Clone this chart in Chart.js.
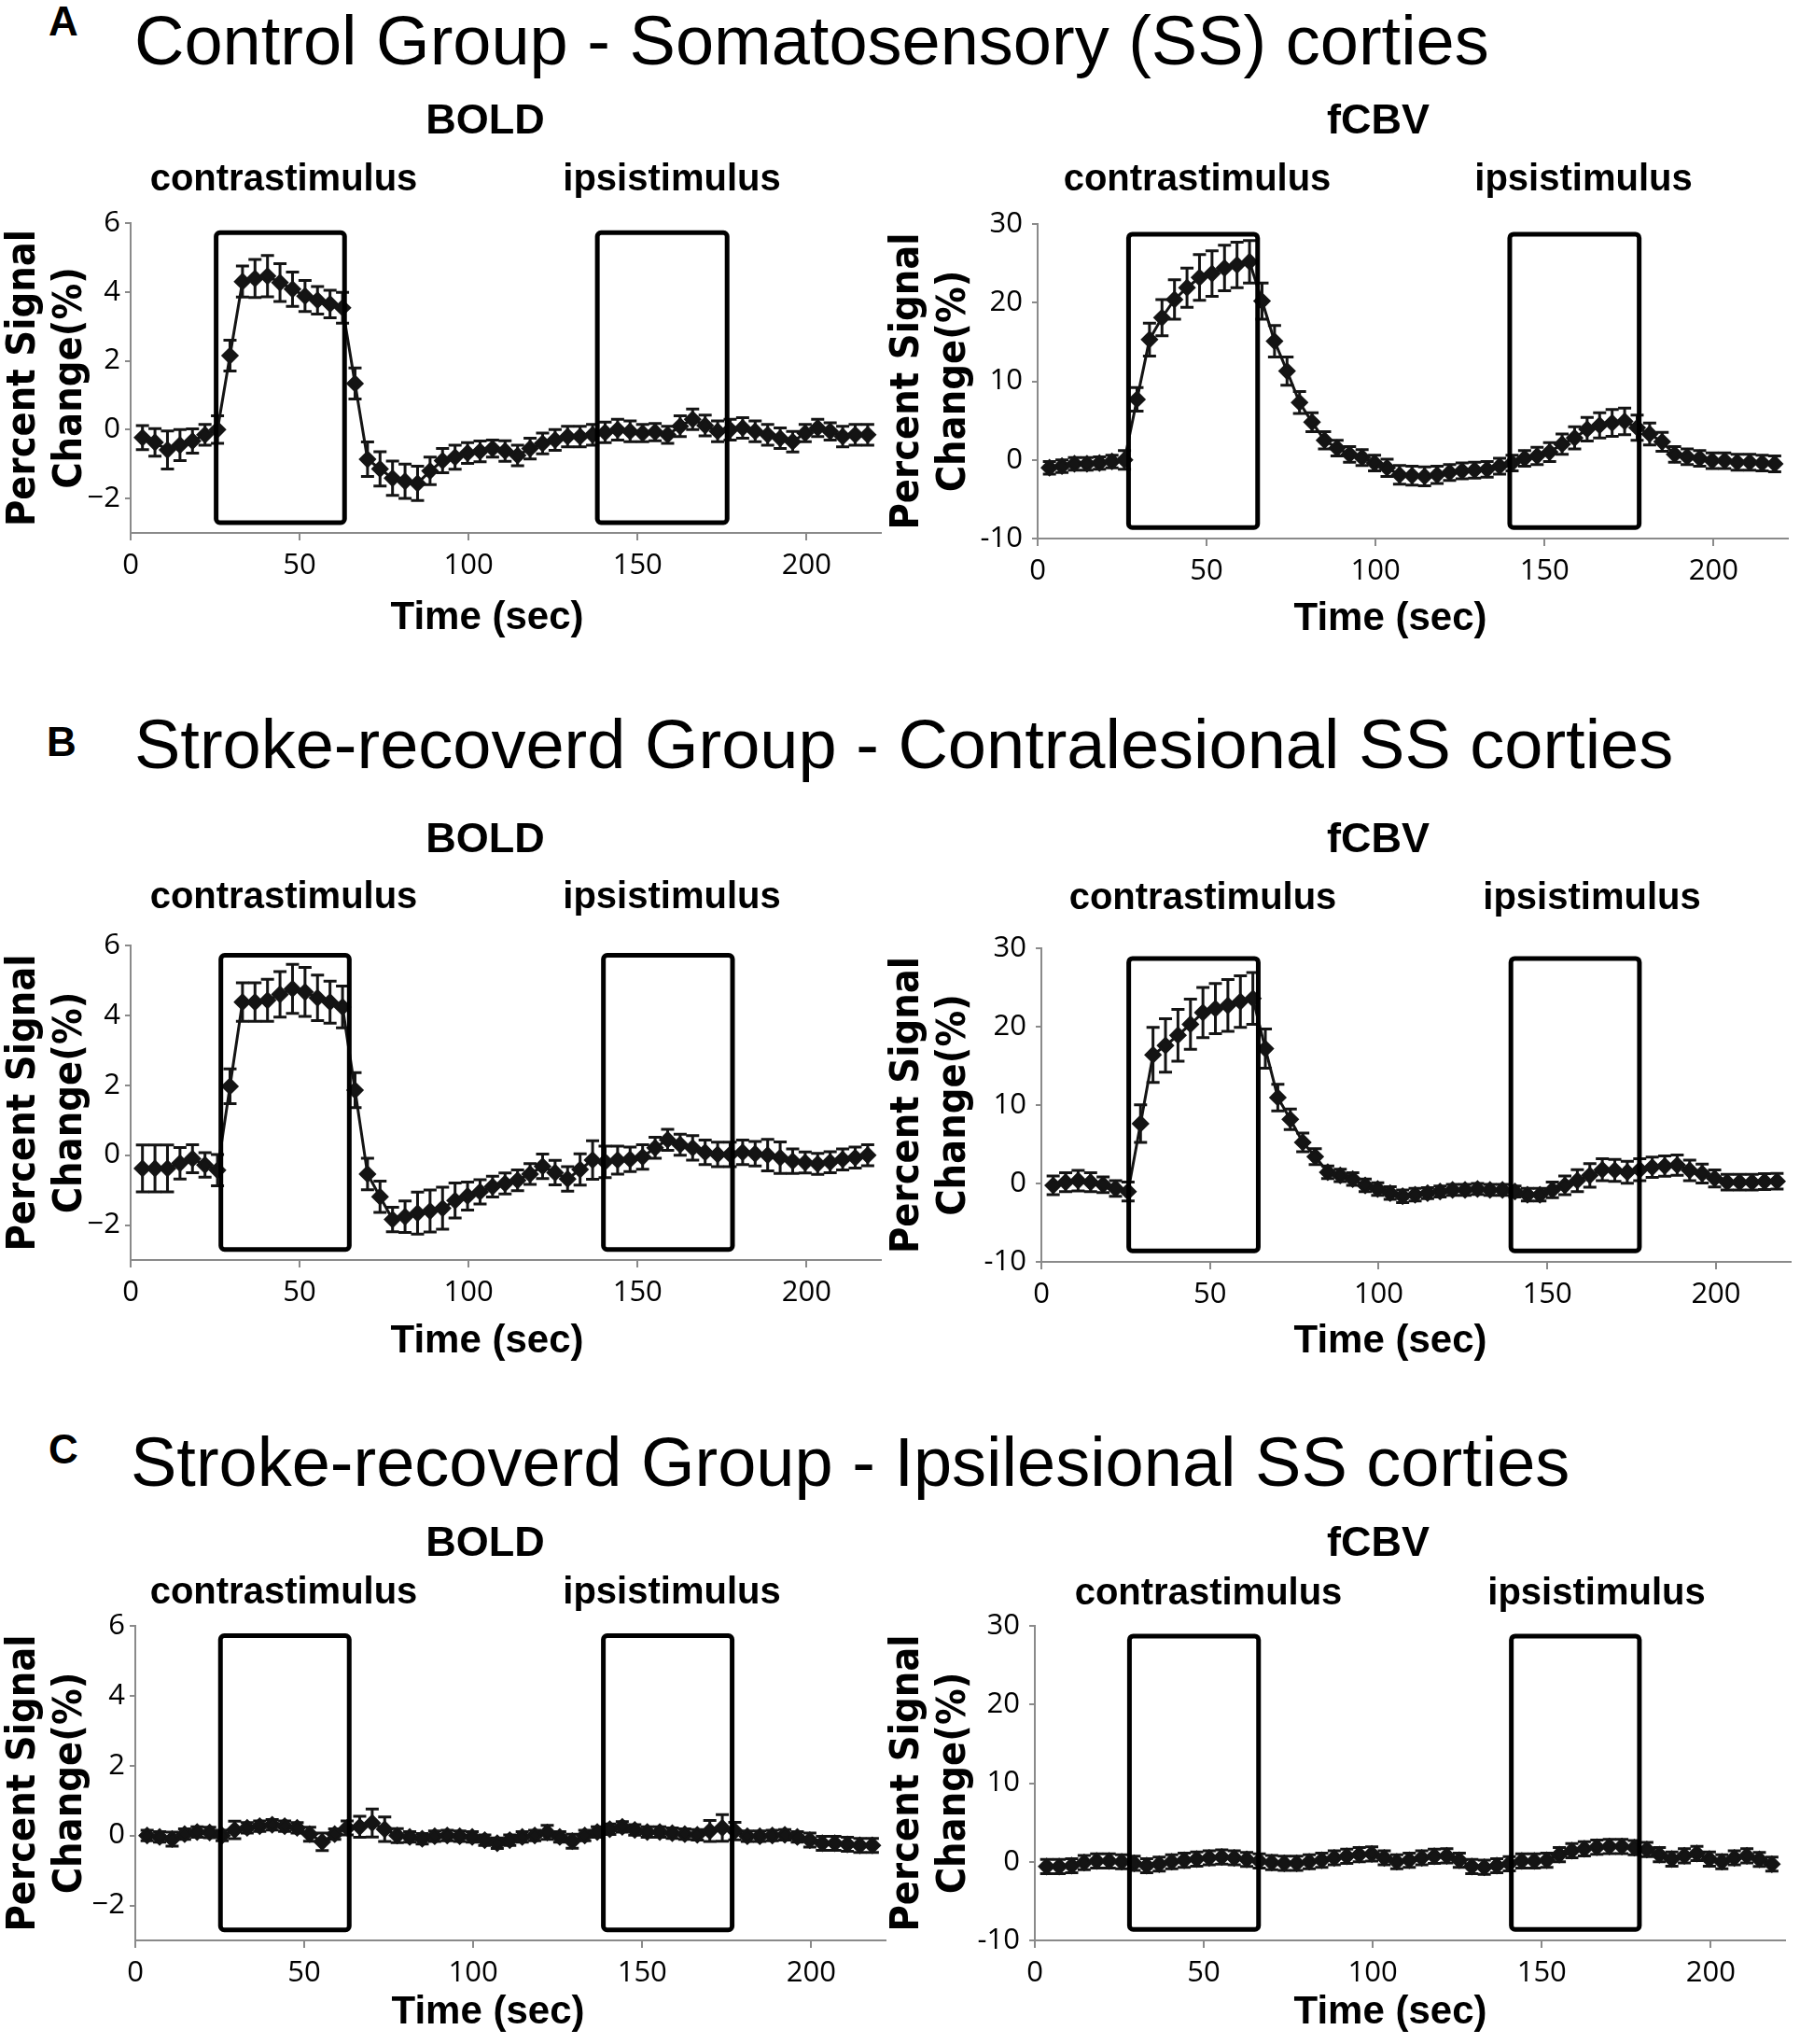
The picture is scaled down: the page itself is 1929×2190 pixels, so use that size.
<!DOCTYPE html>
<html>
<head>
<meta charset="utf-8">
<script src="https://cdn.jsdelivr.net/npm/chart.js@4.4.0/dist/chart.umd.min.js"></script>
<style>
  body { margin: 0; background: #fff; width: 1929px; height: 2190px; position: relative; overflow: hidden; }
  .title { position: absolute; font-family: "Liberation Sans", Arial, sans-serif; font-size: 74px; line-height: 1; white-space: nowrap; color: #000; }
  .letter { position: absolute; font-family: "Liberation Sans", Arial, sans-serif; font-weight: bold; font-size: 44px; line-height: 1; color: #000; }
  canvas { position: absolute; }
</style>
</head>
<body>
<div class="letter" style="left:52px;top:1px">A</div>
<div class="title" style="left:144px;top:7px">Control Group - Somatosensory (SS) corties</div>
<div class="letter" style="left:50px;top:773px">B</div>
<div class="title" style="left:144px;top:761px">Stroke-recoverd Group - Contralesional SS corties</div>
<div class="letter" style="left:52px;top:1531px">C</div>
<div class="title" style="left:140px;top:1530px">Stroke-recoverd Group - Ipsilesional SS corties</div>

<script>
// time of each volume (sec)
const timeSec = [3.5, 7.2, 10.9, 14.6, 18.3, 22.0, 25.7, 29.4, 33.1, 36.8, 40.5, 44.2, 47.9, 51.6, 55.3,
  59.0, 62.7, 66.4, 70.1, 73.8, 77.5, 81.2, 84.9, 88.6, 92.3, 96.0, 99.7, 103.4, 107.1, 110.8,
  114.5, 118.2, 121.9, 125.6, 129.3, 133.0, 136.7, 140.4, 144.1, 147.8, 151.5, 155.2, 158.9, 162.6, 166.3,
  170.0, 173.7, 177.4, 181.1, 184.8, 188.5, 192.2, 195.9, 199.6, 203.3, 207.0, 210.7, 214.4, 218.1];

// A - control, SS cortex
const boldA = [-0.23, -0.37, -0.59, -0.45, -0.33, -0.15, 0.0, 2.15, 4.3, 4.39, 4.46, 4.27, 4.08, 3.88, 3.76,
  3.65, 3.54, 1.34, -0.86, -1.14, -1.41, -1.5, -1.56, -1.2, -0.9, -0.8, -0.68, -0.63, -0.55, -0.62,
  -0.75, -0.55, -0.4, -0.3, -0.2, -0.2, -0.15, -0.08, 0.0, -0.05, -0.1, -0.07, -0.15, 0.1, 0.3,
  0.12, -0.05, 0.0, 0.05, -0.05, -0.15, -0.25, -0.35, -0.1, 0.05, -0.05, -0.2, -0.15, -0.15];
const boldAErr = [0.35, 0.4, 0.55, 0.45, 0.35, 0.3, 0.4, 0.45, 0.45, 0.55, 0.6, 0.55, 0.5, 0.45, 0.4,
  0.4, 0.45, 0.45, 0.5, 0.5, 0.5, 0.5, 0.5, 0.4, 0.35, 0.35, 0.3, 0.3, 0.25, 0.3,
  0.3, 0.3, 0.3, 0.3, 0.3, 0.3, 0.3, 0.3, 0.3, 0.3, 0.25, 0.25, 0.25, 0.3, 0.3,
  0.3, 0.3, 0.3, 0.3, 0.3, 0.3, 0.3, 0.3, 0.25, 0.25, 0.25, 0.3, 0.3, 0.3];
const cbvA = [-1.0, -0.8, -0.5, -0.5, -0.4, -0.2, 0.0, 7.7, 15.3, 18.1, 20.4, 21.9, 23.2, 23.7, 24.4,
  24.8, 25.2, 20.2, 15.1, 11.3, 7.3, 4.8, 2.5, 1.5, 0.7, 0.3, -0.4, -1.0, -1.9, -2.0,
  -2.1, -1.9, -1.6, -1.4, -1.3, -1.2, -0.8, -0.4, 0.2, 0.5, 1.0, 2.0, 2.8, 3.9, 4.4,
  4.7, 4.9, 4.1, 3.3, 2.3, 0.7, 0.4, 0.2, -0.1, -0.1, -0.3, -0.3, -0.4, -0.5];
const cbvAErr = [0.8, 0.8, 0.8, 0.8, 0.8, 0.8, 1.2, 1.5, 2.1, 2.3, 2.5, 2.5, 2.9, 2.9, 2.9,
  2.9, 2.7, 2.3, 2.0, 1.8, 1.4, 1.2, 1.1, 1.0, 1.0, 1.0, 1.0, 1.1, 1.2, 1.2,
  1.2, 1.1, 1.0, 1.0, 1.0, 1.0, 1.0, 1.0, 1.0, 1.1, 1.2, 1.3, 1.4, 1.5, 1.6,
  1.7, 1.7, 1.6, 1.4, 1.2, 1.0, 1.0, 1.0, 1.0, 1.0, 1.0, 1.0, 1.0, 1.0];

// B - stroke recovered, contralesional SS
const boldB = [-0.38, -0.38, -0.38, -0.23, -0.1, -0.28, -0.43, 1.97, 4.38, 4.38, 4.43, 4.6, 4.76, 4.67, 4.5,
  4.38, 4.24, 1.86, -0.54, -1.19, -1.84, -1.76, -1.66, -1.6, -1.52, -1.3, -1.17, -1.05, -0.9, -0.81,
  -0.72, -0.54, -0.32, -0.5, -0.68, -0.41, -0.14, -0.19, -0.14, -0.12, -0.05, 0.21, 0.44, 0.3, 0.21,
  0.08, 0.02, 0.02, 0.08, 0.04, 0.0, -0.07, -0.17, -0.21, -0.25, -0.2, -0.12, -0.07, 0.0];
const boldBErr = [0.67, 0.67, 0.67, 0.45, 0.4, 0.35, 0.45, 0.5, 0.55, 0.55, 0.6, 0.65, 0.7, 0.7, 0.65,
  0.6, 0.6, 0.5, 0.45, 0.45, 0.35, 0.45, 0.6, 0.6, 0.6, 0.5, 0.4, 0.35, 0.3, 0.3,
  0.3, 0.3, 0.35, 0.35, 0.35, 0.45, 0.55, 0.45, 0.4, 0.35, 0.35, 0.3, 0.3, 0.3, 0.35,
  0.35, 0.35, 0.35, 0.35, 0.35, 0.45, 0.45, 0.35, 0.3, 0.3, 0.3, 0.3, 0.3, 0.3];
const cbvB = [-0.24, 0.16, 0.36, 0.16, -0.16, -0.64, -1.03, 7.63, 16.4, 17.6, 18.9, 20.3, 21.8, 22.3, 22.7,
  23.2, 23.6, 17.2, 10.96, 8.18, 5.24, 3.42, 1.43, 1.03, 0.56, -0.24, -0.71, -1.23, -1.63, -1.43,
  -1.23, -1.03, -0.83, -0.83, -0.71, -0.83, -0.83, -1.03, -1.43, -1.43, -0.83, -0.24, 0.36, 1.03, 1.75,
  1.67, 1.43, 1.75, 2.07, 2.22, 2.34, 1.67, 1.27, 0.64, 0.16, 0.16, 0.16, 0.24, 0.28];
const cbvBErr = [1.2, 1.2, 1.3, 1.2, 1.0, 1.0, 1.2, 2.4, 3.5, 3.4, 3.3, 3.2, 3.2, 3.2, 3.3,
  3.3, 3.3, 2.5, 1.7, 1.3, 1.2, 1.0, 0.8, 0.8, 0.8, 0.8, 0.8, 0.8, 0.8, 0.8,
  0.7, 0.7, 0.7, 0.7, 0.7, 0.7, 0.7, 0.7, 0.8, 0.8, 1.0, 1.2, 1.4, 1.5, 1.4,
  1.4, 1.4, 1.4, 1.3, 1.3, 1.3, 1.3, 1.2, 1.1, 1.0, 1.0, 1.0, 1.0, 1.0];

// C - stroke recovered, ipsilesional SS
const boldC = [0.0, -0.04, -0.1, 0.04, 0.1, 0.09, 0.0, 0.16, 0.22, 0.27, 0.31, 0.27, 0.22, 0.04, -0.18,
  0.04, 0.22, 0.25, 0.36, 0.18, 0.0, -0.04, -0.09, -0.02, 0.0, -0.02, -0.04, -0.13, -0.22, -0.13,
  -0.04, 0.0, 0.09, -0.04, -0.16, 0.0, 0.1, 0.18, 0.25, 0.16, 0.1, 0.1, 0.07, 0.04, 0.02,
  0.13, 0.22, 0.13, -0.02, -0.02, 0.0, 0.02, -0.04, -0.13, -0.22, -0.22, -0.25, -0.28, -0.28];
const boldCErr = [0.15, 0.15, 0.2, 0.15, 0.15, 0.15, 0.15, 0.25, 0.15, 0.15, 0.15, 0.15, 0.15, 0.2, 0.25,
  0.15, 0.2, 0.3, 0.4, 0.35, 0.2, 0.15, 0.15, 0.15, 0.15, 0.15, 0.15, 0.15, 0.15, 0.15,
  0.15, 0.15, 0.2, 0.15, 0.2, 0.15, 0.15, 0.15, 0.15, 0.15, 0.15, 0.15, 0.15, 0.15, 0.15,
  0.3, 0.38, 0.25, 0.15, 0.15, 0.15, 0.15, 0.15, 0.2, 0.2, 0.2, 0.2, 0.2, 0.2];
const cbvC = [-0.6, -0.6, -0.5, -0.1, 0.1, 0.1, 0.0, -0.2, -0.5, -0.3, 0.0, 0.2, 0.35, 0.5, 0.6,
  0.5, 0.3, 0.1, -0.1, -0.2, -0.2, 0.0, 0.2, 0.5, 0.7, 0.9, 1.0, 0.5, 0.0, 0.2,
  0.5, 0.7, 0.75, 0.2, -0.6, -0.7, -0.5, -0.25, 0.1, 0.1, 0.2, 0.9, 1.4, 1.65, 1.85,
  1.95, 1.95, 1.8, 1.55, 0.9, 0.35, 0.75, 1.05, 0.35, 0.0, 0.5, 0.75, 0.3, -0.3];
const cbvCErr = [0.9, 0.9, 0.9, 0.9, 0.9, 0.9, 0.9, 0.9, 0.9, 0.9, 0.9, 0.9, 0.9, 0.9, 0.9,
  0.9, 0.9, 0.9, 0.9, 0.9, 0.9, 0.9, 0.9, 0.9, 0.9, 0.9, 0.9, 0.9, 0.9, 0.9,
  0.9, 0.9, 0.9, 0.9, 0.9, 0.9, 0.9, 0.9, 0.9, 0.9, 0.9, 0.9, 0.9, 0.9, 0.9,
  0.9, 0.9, 0.9, 0.9, 0.9, 0.9, 0.9, 0.9, 0.9, 0.9, 0.9, 0.9, 0.9, 0.9];

// stimulation windows (sec) as drawn in each panel
const boxBoldA = [[25.3, 63.3], [138.1, 176.5]];
const boxCbvA = [[26.9, 65.1], [139.7, 178.0]];
const boxBoldB = [[26.7, 64.7], [139.9, 178.1]];
const boxCbvB = [[25.9, 64.3], [139.2, 177.3]];
const boxBoldC = [[25.2, 63.3], [138.5, 176.6]];
const boxCbvC = [[28.0, 66.2], [141.0, 178.9]];
const boxYBold = [-2.7, 5.72];
const boxYCbv = [-8.6, 28.7];

const stimNames = ['contrastimulus', 'ipsistimulus'];
const xTicks = [0, 50, 100, 150, 200];
const yTicksBold = [-2, 0, 2, 4, 6];
const yLabelsBold = ['\u22122', '0', '2', '4', '6'];
const yTicksCbv = [-10, 0, 10, 20, 30];
const yLabelsCbv = ['-10', '0', '10', '20', '30'];

const INK = '#141414';
const AXIS = '#8a8a8a';
const SANS = '"Liberation Sans", Arial, sans-serif';

function makeChart(p) {
  const cv = document.createElement('canvas');
  cv.width = p.w;
  cv.height = p.h;
  cv.style.left = p.x + 'px';
  cv.style.top = p.y + 'px';
  document.body.appendChild(cv);

  const errorBars = {
    id: 'errorBars',
    beforeDatasetsDraw(chart) {
      const { ctx, scales: { x, y } } = chart;
      ctx.save();
      ctx.strokeStyle = INK;
      ctx.lineWidth = 3;
      p.mean.forEach((m, i) => {
        const px = x.getPixelForValue(timeSec[i]);
        const top = y.getPixelForValue(m + p.err[i]);
        const bot = y.getPixelForValue(m - p.err[i]);
        ctx.beginPath();
        ctx.moveTo(px, top); ctx.lineTo(px, bot);
        ctx.moveTo(px - 7, top); ctx.lineTo(px + 7, top);
        ctx.moveTo(px - 7, bot); ctx.lineTo(px + 7, bot);
        ctx.stroke();
      });
      ctx.restore();
    }
  };

  const decor = {
    id: 'decor',
    afterDatasetsDraw(chart) {
      const { ctx, scales: { x, y } } = chart;
      ctx.save();
      ctx.strokeStyle = '#000';
      ctx.lineWidth = 5;
      ctx.lineJoin = 'round';
      p.boxes.forEach(b => {
        const x0 = x.getPixelForValue(b[0]);
        const x1 = x.getPixelForValue(b[1]);
        const y0 = y.getPixelForValue(p.boxY[1]);
        const y1 = y.getPixelForValue(p.boxY[0]);
        ctx.beginPath();
        ctx.roundRect(x0, y0, x1 - x0, y1 - y0, 4);
        ctx.stroke();
      });
      ctx.restore();
    },
    afterDraw(chart) {
      const ctx = chart.ctx;
      ctx.save();
      ctx.fillStyle = '#000';
      ctx.textAlign = 'center';
      ctx.textBaseline = 'alphabetic';
      ctx.font = 'bold 45px ' + SANS;
      ctx.fillText(p.head, p.headX - p.x, p.headBase - p.y);
      ctx.font = 'bold 40px ' + SANS;
      stimNames.forEach((s, i) => ctx.fillText(s, p.stimX[i] - p.x, p.stimBase - p.y));
      ctx.font = 'bold 42px ' + SANS;
      ctx.textBaseline = 'middle';
      ctx.fillText('Time (sec)', p.timeX - p.x, p.timeMid - p.y);
      ctx.restore();
    }
  };

  return new Chart(cv, {
    type: 'line',
    data: {
      datasets: [{
        data: timeSec.map((t, i) => ({ x: t, y: p.mean[i] })),
        borderColor: INK,
        borderWidth: 3,
        backgroundColor: INK,
        pointStyle: 'rectRot',
        pointRadius: 7.5,
        pointBackgroundColor: INK,
        pointBorderColor: INK,
        tension: 0
      }]
    },
    options: {
      responsive: false,
      animation: false,
      devicePixelRatio: 1,
      layout: { padding: { top: p.padTop, right: p.padRight, bottom: 0, left: 0 } },
      plugins: { legend: { display: false }, tooltip: { enabled: false } },
      scales: {
        x: {
          type: 'linear',
          min: 0,
          max: 222,
          afterBuildTicks: s => { s.ticks = xTicks.map(v => ({ value: v })); },
          afterFit: s => { s.height = p.xAxisH; },
          grid: { drawOnChartArea: false, drawTicks: true, tickLength: 8, color: AXIS, lineWidth: 2 },
          border: { display: true, color: AXIS, width: 2 },
          ticks: { color: '#000', padding: 9, maxRotation: 0, autoSkip: false,
                   font: { family: '"Open Sans", "Liberation Sans", sans-serif', size: 31 } }
        },
        y: {
          type: 'linear',
          min: p.yMin,
          max: p.yMax,
          afterBuildTicks: s => { s.ticks = p.yTicks.map(v => ({ value: v })); },
          afterFit: s => { s.width = p.yAxisW; },
          grid: { drawOnChartArea: false, drawTicks: true, tickLength: 6, color: AXIS, lineWidth: 2 },
          border: { display: true, color: AXIS, width: 2 },
          ticks: { color: '#000', padding: p.yTickPad, autoSkip: false,
                   callback: (v, i) => p.yLabels[i],
                   font: { family: '"Open Sans", "Liberation Sans", sans-serif', size: 31 } },
          title: {
            display: true,
            text: ['Percent Signal', 'Change(%)'],
            color: '#000',
            padding: { top: 1, bottom: 0 },
            font: { family: '"Liberation Sans Narrow", "DejaVu Sans Condensed", "Liberation Sans", sans-serif',
                    weight: 'bold', size: 43, lineHeight: 1.16 }
          }
        }
      }
    },
    plugins: [errorBars, decor]
  });
}

const boldAxis = { yMin: -3, yMax: 6, yTicks: yTicksBold, yLabels: yLabelsBold, boxY: boxYBold, head: 'BOLD', yTickPad: 5 };
const cbvAxis = { yMin: -10, yMax: 30, yTicks: yTicksCbv, yLabels: yLabelsCbv, boxY: boxYCbv, head: 'fCBV', yTickPad: 10 };

const panels = [
  Object.assign({}, boldAxis, { mean: boldA, err: boldAErr, boxes: boxBoldA,
    x: 0, y: 100, w: 960, h: 587, padTop: 139, padRight: 16, yAxisW: 140, xAxisH: 116,
    headX: 520, headBase: 143, stimX: [304, 720], stimBase: 204, timeX: 522, timeMid: 662 }),
  Object.assign({}, cbvAxis, { mean: cbvA, err: cbvAErr, boxes: boxCbvA,
    x: 947, y: 100, w: 982, h: 588, padTop: 140, padRight: 13, yAxisW: 165, xAxisH: 111,
    headX: 1477, headBase: 143, stimX: [1283, 1697], stimBase: 204, timeX: 1490, timeMid: 663 }),
  Object.assign({}, boldAxis, { mean: boldB, err: boldBErr, boxes: boxBoldB,
    x: 0, y: 860, w: 960, h: 602, padTop: 153, padRight: 16, yAxisW: 140, xAxisH: 112,
    headX: 520, headBase: 913, stimX: [304, 720], stimBase: 973, timeX: 522, timeMid: 1437 }),
  Object.assign({}, cbvAxis, { mean: cbvB, err: cbvBErr, boxes: boxCbvB,
    x: 947, y: 860, w: 982, h: 602, padTop: 156, padRight: 9, yAxisW: 169, xAxisH: 110,
    headX: 1477, headBase: 913, stimX: [1289, 1706], stimBase: 974, timeX: 1490, timeMid: 1437 }),
  Object.assign({}, boldAxis, { mean: boldC, err: boldCErr, boxes: boxBoldC,
    x: 0, y: 1610, w: 960, h: 571, padTop: 132, padRight: 11, yAxisW: 145, xAxisH: 102,
    headX: 520, headBase: 1667, stimX: [304, 720], stimBase: 1718, timeX: 523, timeMid: 2156 }),
  Object.assign({}, cbvAxis, { mean: cbvC, err: cbvCErr, boxes: boxCbvC,
    x: 947, y: 1610, w: 982, h: 571, padTop: 132, padRight: 16, yAxisW: 162, xAxisH: 102,
    headX: 1477, headBase: 1667, stimX: [1295, 1711], stimBase: 1719, timeX: 1490, timeMid: 2156 })
];

panels.forEach(makeChart);
</script>
</body>
</html>
